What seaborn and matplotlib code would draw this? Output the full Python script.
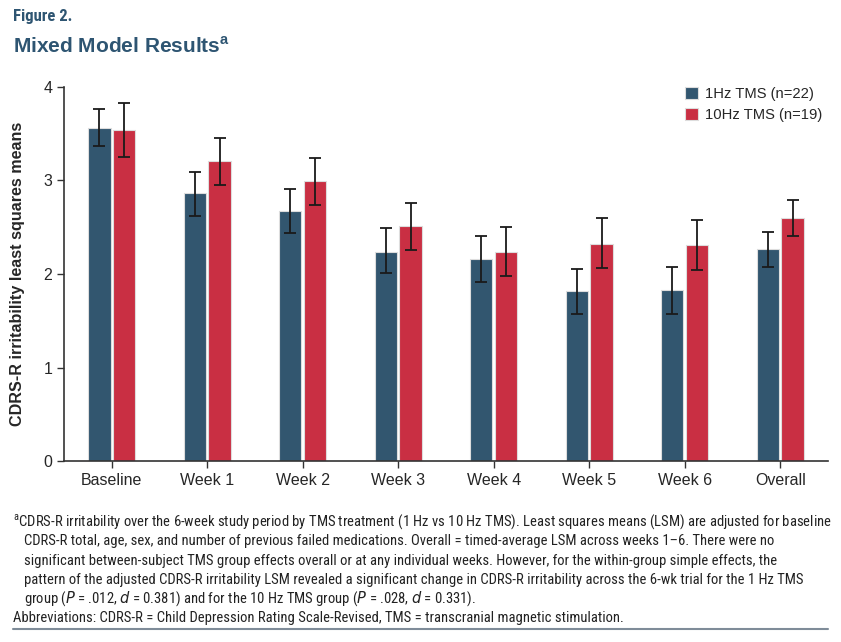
import numpy as np
import pandas as pd
import matplotlib
matplotlib.use("Agg")
import matplotlib.pyplot as plt
import seaborn as sns

# --- data ---
weeks = ["Baseline", "Week 1", "Week 2", "Week 3", "Week 4", "Week 5", "Week 6", "Overall"]
groups = ["1Hz TMS (n=22)", "10Hz TMS (n=19)"]

lsm_1hz = [3.56, 2.87, 2.67, 2.24, 2.16, 1.82, 1.83, 2.27]
lo_1hz = [3.37, 2.62, 2.44, 2.01, 1.91, 1.57, 1.57, 2.07]
hi_1hz = [3.76, 3.09, 2.91, 2.49, 2.41, 2.05, 2.07, 2.45]

lsm_10hz = [3.54, 3.21, 2.99, 2.51, 2.24, 2.32, 2.31, 2.60]
lo_10hz = [3.25, 2.95, 2.74, 2.26, 1.98, 2.06, 2.04, 2.41]
hi_10hz = [3.83, 3.45, 3.24, 2.76, 2.50, 2.60, 2.58, 2.79]

BLUE = "#32566F"
RED = "#C92F43"
TITLE_COL = "#2E5572"

df = pd.DataFrame({
    "week": weeks * 2,
    "group": [groups[0]] * len(weeks) + [groups[1]] * len(weeks),
    "lsm": lsm_1hz + lsm_10hz,
    "lo": lo_1hz + lo_10hz,
    "hi": hi_1hz + hi_10hz,
})

sns.set_style("ticks")
plt.rcParams['font.family'] = ['Liberation Sans', 'DejaVu Sans']

fig = plt.figure(figsize=(8.41, 6.42), dpi=100)
ax = fig.add_axes([0.0761, 0.2819, 0.9084, 0.5826])

sns.barplot(data=df, x="week", y="lsm", hue="group", order=weeks, hue_order=groups,
            palette=[BLUE, RED], width=0.52, gap=0.1, errorbar=None,
            edgecolor="#dddddd", linewidth=0.8, saturation=1, ax=ax)

# error bars at the centre of each drawn bar
for cont, sub in zip(ax.containers, [df[df.group == g] for g in groups]):
    xs = [p.get_x() + p.get_width() / 2 for p in cont.patches]
    y = sub["lsm"].to_numpy()
    yerr = np.vstack([y - sub["lo"].to_numpy(), sub["hi"].to_numpy() - y])
    ax.errorbar(xs, y, yerr=yerr, fmt="none", ecolor="#1a1a1a", elinewidth=1.3,
                capsize=4, capthick=1.3, zorder=5)

ax.set_xlim(-0.5, 7.5)
ax.set_ylim(0, 4)
ax.set_yticks([0, 1, 2, 3, 4])
ax.set_xlabel("")
ax.set_ylabel("CDRS-R irritability least squares means", fontsize=11.6, fontweight="bold",
              labelpad=13)
ax.tick_params(axis="both", labelsize=11.5, length=5, color="#333333", width=1)
for s in ["left", "bottom"]:
    ax.spines[s].set_color("#333333")
    ax.spines[s].set_linewidth(1.2)
sns.despine(ax=ax)

ax.legend(loc="upper right", bbox_to_anchor=(1.01, 1.035), frameon=False,
          fontsize=10.6, handlelength=0.85, handleheight=0.85, handletextpad=0.5,
          labelspacing=0.45)

# heading
narrow = ['Roboto Condensed', 'Liberation Sans Narrow', 'Roboto', 'DejaVu Sans']
fig.text(13 / 841, 1 - 17 / 642, "Figure 2.", fontsize=12, fontweight="bold",
         color=TITLE_COL, family=narrow, va="center")
fig.text(13 / 841, 1 - 46 / 642, r"Mixed Model Results$^{\mathregular{a}}$", fontsize=15,
         fontweight="bold", color=TITLE_COL, va="center")

# footnote
foot = [
    r"$^{\mathregular{a}}$CDRS-R irritability over the 6-week study period by TMS treatment (1 Hz vs 10 Hz TMS). Least squares means (LSM) are adjusted for baseline",
    "CDRS-R total, age, sex, and number of previous failed medications. Overall = timed-average LSM across weeks 1\u20136. There were no",
    "significant between-subject TMS group effects overall or at any individual weeks. However, for the within-group simple effects, the",
    "pattern of the adjusted CDRS-R irritability LSM revealed a significant change in CDRS-R irritability across the 6-wk trial for the 1 Hz TMS",
    r"group ($\it{P}$ = .012, $\it{d}$ = 0.381) and for the 10 Hz TMS group ($\it{P}$ = .028, $\it{d}$ = 0.331).",
    "Abbreviations: CDRS-R = Child Depression Rating Scale-Revised, TMS = transcranial magnetic stimulation.",
]
ys = [522, 541, 561, 580, 599, 618]
xs = [13, 24, 24, 24, 24, 13]
texts = []
for t, y, x in zip(foot, ys, xs):
    texts.append(fig.text(x / 841, 1 - y / 642, t, fontsize=10.3, color="#222222",
                          family=narrow, va="center"))

# shrink the footnote so that its first line spans the page width like the original
fig.canvas.draw()
r = fig.canvas.get_renderer()
w = texts[0].get_window_extent(r).width
size = 10.3 * 815 / w
for t in texts:
    t.set_fontsize(size)

fig.add_artist(plt.Line2D([13 / 841, 828 / 841], [1 - 629 / 642] * 2, color="#7f8c99",
                          linewidth=1.5))

fig.savefig("out.png", dpi=100)
